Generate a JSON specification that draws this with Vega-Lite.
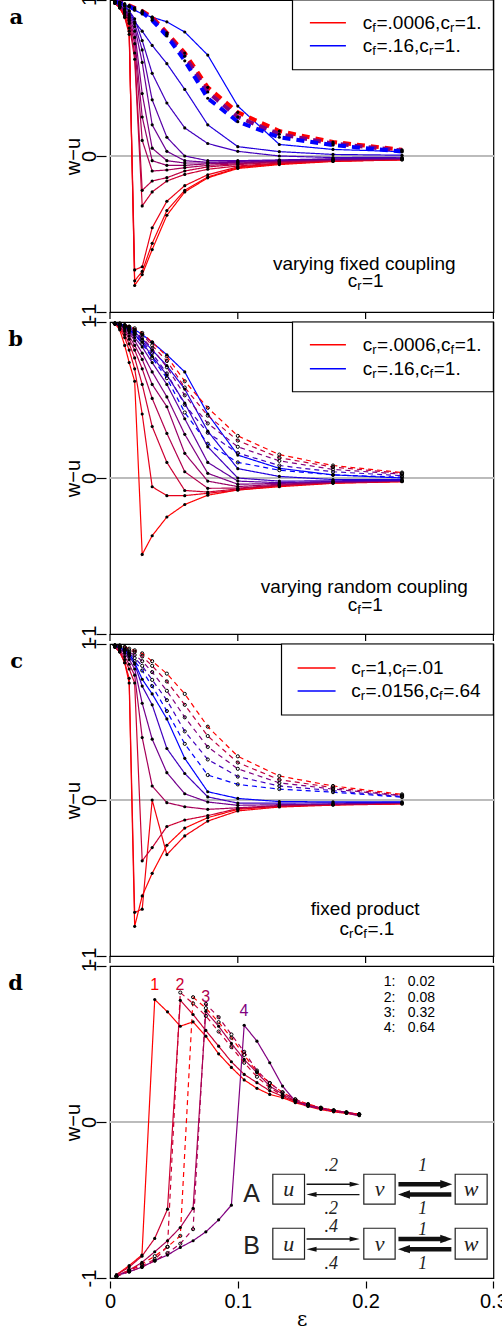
{
"$schema":"https://vega.github.io/schema/vega-lite/v6.json",
"padding":{"left":8,"top":-8,"right":0,"bottom":0},
"background":"white",
"config":{"view":{"stroke":"black","strokeWidth":1.2},"font":"Liberation Sans",
"axis":{"grid":false,"domain":false,"tickColor":"black","labelColor":"black","titleColor":"black","labelFont":"Liberation Sans","titleFont":"Liberation Sans","labelFontSize":20,"titleFontSize":20,"titleFontWeight":"normal","tickWidth":1.2}},
"data":{"values":[
{"p":"a","s":"a1","t":0,"x":0.0038,"y":0.98},{"p":"a","s":"a1","t":0,"x":0.0076,"y":0.95},{"p":"a","s":"a1","t":0,"x":0.0115,"y":0.9},{"p":"a","s":"a1","t":0,"x":0.015,"y":0.82},{"p":"a","s":"a1","t":0,"x":0.0193,"y":-0.83},{"p":"a","s":"a1","t":0,"x":0.0252,"y":-0.76},{"p":"a","s":"a1","t":0,"x":0.033,"y":-0.6},{"p":"a","s":"a1","t":0,"x":0.0445,"y":-0.38},{"p":"a","s":"a1","t":0,"x":0.0585,"y":-0.23},{"p":"a","s":"a1","t":0,"x":0.0765,"y":-0.14},{"p":"a","s":"a1","t":0,"x":0.1,"y":-0.08},{"p":"a","s":"a1","t":0,"x":0.1325,"y":-0.055},{"p":"a","s":"a1","t":0,"x":0.1745,"y":-0.035},{"p":"a","s":"a1","t":0,"x":0.2285,"y":-0.025},
{"p":"a","s":"a2","t":0.04,"x":0.0038,"y":0.98},{"p":"a","s":"a2","t":0.04,"x":0.0076,"y":0.95},{"p":"a","s":"a2","t":0.04,"x":0.0115,"y":0.89},{"p":"a","s":"a2","t":0.04,"x":0.015,"y":0.8},{"p":"a","s":"a2","t":0.04,"x":0.0193,"y":-0.8},{"p":"a","s":"a2","t":0.04,"x":0.0252,"y":-0.74},{"p":"a","s":"a2","t":0.04,"x":0.033,"y":-0.56},{"p":"a","s":"a2","t":0.04,"x":0.0445,"y":-0.35},{"p":"a","s":"a2","t":0.04,"x":0.0585,"y":-0.22},{"p":"a","s":"a2","t":0.04,"x":0.0765,"y":-0.135},{"p":"a","s":"a2","t":0.04,"x":0.1,"y":-0.075},{"p":"a","s":"a2","t":0.04,"x":0.1325,"y":-0.05},{"p":"a","s":"a2","t":0.04,"x":0.1745,"y":-0.033},{"p":"a","s":"a2","t":0.04,"x":0.2285,"y":-0.024},
{"p":"a","s":"a3","t":0.08,"x":0.0038,"y":0.98},{"p":"a","s":"a3","t":0.08,"x":0.0076,"y":0.95},{"p":"a","s":"a3","t":0.08,"x":0.0115,"y":0.89},{"p":"a","s":"a3","t":0.08,"x":0.015,"y":0.78},{"p":"a","s":"a3","t":0.08,"x":0.0193,"y":-0.73},{"p":"a","s":"a3","t":0.08,"x":0.0252,"y":-0.71},{"p":"a","s":"a3","t":0.08,"x":0.033,"y":-0.46},{"p":"a","s":"a3","t":0.08,"x":0.0445,"y":-0.29},{"p":"a","s":"a3","t":0.08,"x":0.0585,"y":-0.19},{"p":"a","s":"a3","t":0.08,"x":0.0765,"y":-0.12},{"p":"a","s":"a3","t":0.08,"x":0.1,"y":-0.07},{"p":"a","s":"a3","t":0.08,"x":0.1325,"y":-0.048},{"p":"a","s":"a3","t":0.08,"x":0.1745,"y":-0.032},{"p":"a","s":"a3","t":0.08,"x":0.2285,"y":-0.023},
{"p":"a","s":"a4","t":0.2,"x":0.0038,"y":0.98},{"p":"a","s":"a4","t":0.2,"x":0.0076,"y":0.96},{"p":"a","s":"a4","t":0.2,"x":0.0115,"y":0.91},{"p":"a","s":"a4","t":0.2,"x":0.015,"y":0.85},{"p":"a","s":"a4","t":0.2,"x":0.0193,"y":0.62},{"p":"a","s":"a4","t":0.2,"x":0.0252,"y":-0.32},{"p":"a","s":"a4","t":0.2,"x":0.033,"y":-0.23},{"p":"a","s":"a4","t":0.2,"x":0.0445,"y":-0.16},{"p":"a","s":"a4","t":0.2,"x":0.0585,"y":-0.118},{"p":"a","s":"a4","t":0.2,"x":0.0765,"y":-0.085},{"p":"a","s":"a4","t":0.2,"x":0.1,"y":-0.064},{"p":"a","s":"a4","t":0.2,"x":0.1325,"y":-0.045},{"p":"a","s":"a4","t":0.2,"x":0.1745,"y":-0.03},{"p":"a","s":"a4","t":0.2,"x":0.2285,"y":-0.022},
{"p":"a","s":"a5","t":0.26,"x":0.0038,"y":0.98},{"p":"a","s":"a5","t":0.26,"x":0.0076,"y":0.96},{"p":"a","s":"a5","t":0.26,"x":0.0115,"y":0.92},{"p":"a","s":"a5","t":0.26,"x":0.015,"y":0.86},{"p":"a","s":"a5","t":0.26,"x":0.0193,"y":0.66},{"p":"a","s":"a5","t":0.26,"x":0.0252,"y":-0.22},{"p":"a","s":"a5","t":0.26,"x":0.033,"y":-0.16},{"p":"a","s":"a5","t":0.26,"x":0.0445,"y":-0.139},{"p":"a","s":"a5","t":0.26,"x":0.0585,"y":-0.096},{"p":"a","s":"a5","t":0.26,"x":0.0765,"y":-0.07},{"p":"a","s":"a5","t":0.26,"x":0.1,"y":-0.055},{"p":"a","s":"a5","t":0.26,"x":0.1325,"y":-0.04},{"p":"a","s":"a5","t":0.26,"x":0.1745,"y":-0.028},{"p":"a","s":"a5","t":0.26,"x":0.2285,"y":-0.02},
{"p":"a","s":"a6","t":0.34,"x":0.0038,"y":0.98},{"p":"a","s":"a6","t":0.34,"x":0.0076,"y":0.96},{"p":"a","s":"a6","t":0.34,"x":0.0115,"y":0.92},{"p":"a","s":"a6","t":0.34,"x":0.015,"y":0.87},{"p":"a","s":"a6","t":0.34,"x":0.0193,"y":0.72},{"p":"a","s":"a6","t":0.34,"x":0.0252,"y":0.1},{"p":"a","s":"a6","t":0.34,"x":0.033,"y":-0.096},{"p":"a","s":"a6","t":0.34,"x":0.0445,"y":-0.09},{"p":"a","s":"a6","t":0.34,"x":0.0585,"y":-0.075},{"p":"a","s":"a6","t":0.34,"x":0.0765,"y":-0.06},{"p":"a","s":"a6","t":0.34,"x":0.1,"y":-0.05},{"p":"a","s":"a6","t":0.34,"x":0.1325,"y":-0.036},{"p":"a","s":"a6","t":0.34,"x":0.1745,"y":-0.026},{"p":"a","s":"a6","t":0.34,"x":0.2285,"y":-0.019},
{"p":"a","s":"a7","t":0.42,"x":0.0038,"y":0.99},{"p":"a","s":"a7","t":0.42,"x":0.0076,"y":0.96},{"p":"a","s":"a7","t":0.42,"x":0.0115,"y":0.93},{"p":"a","s":"a7","t":0.42,"x":0.015,"y":0.88},{"p":"a","s":"a7","t":0.42,"x":0.0193,"y":0.76},{"p":"a","s":"a7","t":0.42,"x":0.0252,"y":0.25},{"p":"a","s":"a7","t":0.42,"x":0.033,"y":-0.03},{"p":"a","s":"a7","t":0.42,"x":0.0445,"y":-0.06},{"p":"a","s":"a7","t":0.42,"x":0.0585,"y":-0.06},{"p":"a","s":"a7","t":0.42,"x":0.0765,"y":-0.05},{"p":"a","s":"a7","t":0.42,"x":0.1,"y":-0.045},{"p":"a","s":"a7","t":0.42,"x":0.1325,"y":-0.033},{"p":"a","s":"a7","t":0.42,"x":0.1745,"y":-0.024},{"p":"a","s":"a7","t":0.42,"x":0.2285,"y":-0.018},
{"p":"a","s":"a8","t":0.5,"x":0.0038,"y":0.99},{"p":"a","s":"a8","t":0.5,"x":0.0076,"y":0.97},{"p":"a","s":"a8","t":0.5,"x":0.0115,"y":0.93},{"p":"a","s":"a8","t":0.5,"x":0.015,"y":0.89},{"p":"a","s":"a8","t":0.5,"x":0.0193,"y":0.8},{"p":"a","s":"a8","t":0.5,"x":0.0252,"y":0.4},{"p":"a","s":"a8","t":0.5,"x":0.033,"y":0.05},{"p":"a","s":"a8","t":0.5,"x":0.0445,"y":-0.03},{"p":"a","s":"a8","t":0.5,"x":0.0585,"y":-0.045},{"p":"a","s":"a8","t":0.5,"x":0.0765,"y":-0.045},{"p":"a","s":"a8","t":0.5,"x":0.1,"y":-0.04},{"p":"a","s":"a8","t":0.5,"x":0.1325,"y":-0.03},{"p":"a","s":"a8","t":0.5,"x":0.1745,"y":-0.022},{"p":"a","s":"a8","t":0.5,"x":0.2285,"y":-0.017},
{"p":"a","s":"a9","t":0.58,"x":0.0038,"y":0.99},{"p":"a","s":"a9","t":0.58,"x":0.0076,"y":0.97},{"p":"a","s":"a9","t":0.58,"x":0.0115,"y":0.94},{"p":"a","s":"a9","t":0.58,"x":0.015,"y":0.9},{"p":"a","s":"a9","t":0.58,"x":0.0193,"y":0.83},{"p":"a","s":"a9","t":0.58,"x":0.0252,"y":0.6},{"p":"a","s":"a9","t":0.58,"x":0.033,"y":0.2},{"p":"a","s":"a9","t":0.58,"x":0.0445,"y":0.03},{"p":"a","s":"a9","t":0.58,"x":0.0585,"y":-0.03},{"p":"a","s":"a9","t":0.58,"x":0.0765,"y":-0.04},{"p":"a","s":"a9","t":0.58,"x":0.1,"y":-0.035},{"p":"a","s":"a9","t":0.58,"x":0.1325,"y":-0.028},{"p":"a","s":"a9","t":0.58,"x":0.1745,"y":-0.02},{"p":"a","s":"a9","t":0.58,"x":0.2285,"y":-0.015},
{"p":"a","s":"a10","t":0.66,"x":0.0038,"y":0.99},{"p":"a","s":"a10","t":0.66,"x":0.0076,"y":0.97},{"p":"a","s":"a10","t":0.66,"x":0.0115,"y":0.94},{"p":"a","s":"a10","t":0.66,"x":0.015,"y":0.91},{"p":"a","s":"a10","t":0.66,"x":0.0193,"y":0.85},{"p":"a","s":"a10","t":0.66,"x":0.0252,"y":0.68},{"p":"a","s":"a10","t":0.66,"x":0.033,"y":0.36},{"p":"a","s":"a10","t":0.66,"x":0.0445,"y":0.12},{"p":"a","s":"a10","t":0.66,"x":0.0585,"y":0.0},{"p":"a","s":"a10","t":0.66,"x":0.0765,"y":-0.03},{"p":"a","s":"a10","t":0.66,"x":0.1,"y":-0.03},{"p":"a","s":"a10","t":0.66,"x":0.1325,"y":-0.025},{"p":"a","s":"a10","t":0.66,"x":0.1745,"y":-0.018},{"p":"a","s":"a10","t":0.66,"x":0.2285,"y":-0.013},
{"p":"a","s":"a11","t":0.74,"x":0.0038,"y":0.99},{"p":"a","s":"a11","t":0.74,"x":0.0076,"y":0.98},{"p":"a","s":"a11","t":0.74,"x":0.0115,"y":0.96},{"p":"a","s":"a11","t":0.74,"x":0.015,"y":0.93},{"p":"a","s":"a11","t":0.74,"x":0.0193,"y":0.88},{"p":"a","s":"a11","t":0.74,"x":0.0252,"y":0.74},{"p":"a","s":"a11","t":0.74,"x":0.033,"y":0.53},{"p":"a","s":"a11","t":0.74,"x":0.0445,"y":0.34},{"p":"a","s":"a11","t":0.74,"x":0.0585,"y":0.18},{"p":"a","s":"a11","t":0.74,"x":0.0765,"y":0.08},{"p":"a","s":"a11","t":0.74,"x":0.1,"y":0.03},{"p":"a","s":"a11","t":0.74,"x":0.1325,"y":0.0},{"p":"a","s":"a11","t":0.74,"x":0.1745,"y":-0.01},{"p":"a","s":"a11","t":0.74,"x":0.2285,"y":-0.008},
{"p":"a","s":"a12","t":0.86,"x":0.0038,"y":0.99},{"p":"a","s":"a12","t":0.86,"x":0.0076,"y":0.98},{"p":"a","s":"a12","t":0.86,"x":0.0115,"y":0.96},{"p":"a","s":"a12","t":0.86,"x":0.015,"y":0.93},{"p":"a","s":"a12","t":0.86,"x":0.0193,"y":0.86},{"p":"a","s":"a12","t":0.86,"x":0.0252,"y":0.8},{"p":"a","s":"a12","t":0.86,"x":0.033,"y":0.709},{"p":"a","s":"a12","t":0.86,"x":0.0445,"y":0.592},{"p":"a","s":"a12","t":0.86,"x":0.0585,"y":0.427},{"p":"a","s":"a12","t":0.86,"x":0.0765,"y":0.2},{"p":"a","s":"a12","t":0.86,"x":0.1,"y":0.06},{"p":"a","s":"a12","t":0.86,"x":0.1325,"y":0.028},{"p":"a","s":"a12","t":0.86,"x":0.1745,"y":0.01},{"p":"a","s":"a12","t":0.86,"x":0.2285,"y":0.005},
{"p":"a","s":"a13","t":1,"x":0.0038,"y":0.99},{"p":"a","s":"a13","t":1,"x":0.0076,"y":0.985},{"p":"a","s":"a13","t":1,"x":0.0115,"y":0.97},{"p":"a","s":"a13","t":1,"x":0.015,"y":0.955},{"p":"a","s":"a13","t":1,"x":0.0193,"y":0.935},{"p":"a","s":"a13","t":1,"x":0.0252,"y":0.91},{"p":"a","s":"a13","t":1,"x":0.033,"y":0.89},{"p":"a","s":"a13","t":1,"x":0.0445,"y":0.86},{"p":"a","s":"a13","t":1,"x":0.0585,"y":0.795},{"p":"a","s":"a13","t":1,"x":0.0765,"y":0.647},{"p":"a","s":"a13","t":1,"x":0.1,"y":0.32},{"p":"a","s":"a13","t":1,"x":0.1325,"y":0.074},{"p":"a","s":"a13","t":1,"x":0.1745,"y":0.042},{"p":"a","s":"a13","t":1,"x":0.2285,"y":0.028},
{"p":"a","s":"ad1","t":0,"d":1,"x":0.0038,"y":0.99},{"p":"a","s":"ad1","t":0,"d":1,"x":0.0076,"y":0.985},{"p":"a","s":"ad1","t":0,"d":1,"x":0.0115,"y":0.975},{"p":"a","s":"ad1","t":0,"d":1,"x":0.015,"y":0.965},{"p":"a","s":"ad1","t":0,"d":1,"x":0.0193,"y":0.95},{"p":"a","s":"ad1","t":0,"d":1,"x":0.0252,"y":0.93},{"p":"a","s":"ad1","t":0,"d":1,"x":0.033,"y":0.89},{"p":"a","s":"ad1","t":0,"d":1,"x":0.0445,"y":0.79},{"p":"a","s":"ad1","t":0,"d":1,"x":0.0585,"y":0.66},{"p":"a","s":"ad1","t":0,"d":1,"x":0.0765,"y":0.44},{"p":"a","s":"ad1","t":0,"d":1,"x":0.1,"y":0.28},{"p":"a","s":"ad1","t":0,"d":1,"x":0.1325,"y":0.16},{"p":"a","s":"ad1","t":0,"d":1,"x":0.1745,"y":0.09},{"p":"a","s":"ad1","t":0,"d":1,"x":0.2285,"y":0.04},
{"p":"a","s":"ad2","t":0.5,"d":1,"x":0.0038,"y":0.99},{"p":"a","s":"ad2","t":0.5,"d":1,"x":0.0076,"y":0.985},{"p":"a","s":"ad2","t":0.5,"d":1,"x":0.0115,"y":0.975},{"p":"a","s":"ad2","t":0.5,"d":1,"x":0.015,"y":0.96},{"p":"a","s":"ad2","t":0.5,"d":1,"x":0.0193,"y":0.945},{"p":"a","s":"ad2","t":0.5,"d":1,"x":0.0252,"y":0.925},{"p":"a","s":"ad2","t":0.5,"d":1,"x":0.033,"y":0.88},{"p":"a","s":"ad2","t":0.5,"d":1,"x":0.0445,"y":0.78},{"p":"a","s":"ad2","t":0.5,"d":1,"x":0.0585,"y":0.64},{"p":"a","s":"ad2","t":0.5,"d":1,"x":0.0765,"y":0.41},{"p":"a","s":"ad2","t":0.5,"d":1,"x":0.1,"y":0.25},{"p":"a","s":"ad2","t":0.5,"d":1,"x":0.1325,"y":0.14},{"p":"a","s":"ad2","t":0.5,"d":1,"x":0.1745,"y":0.08},{"p":"a","s":"ad2","t":0.5,"d":1,"x":0.2285,"y":0.035},
{"p":"a","s":"ad3","t":1,"d":1,"x":0.0038,"y":0.99},{"p":"a","s":"ad3","t":1,"d":1,"x":0.0076,"y":0.98},{"p":"a","s":"ad3","t":1,"d":1,"x":0.0115,"y":0.97},{"p":"a","s":"ad3","t":1,"d":1,"x":0.015,"y":0.96},{"p":"a","s":"ad3","t":1,"d":1,"x":0.0193,"y":0.94},{"p":"a","s":"ad3","t":1,"d":1,"x":0.0252,"y":0.92},{"p":"a","s":"ad3","t":1,"d":1,"x":0.033,"y":0.87},{"p":"a","s":"ad3","t":1,"d":1,"x":0.0445,"y":0.77},{"p":"a","s":"ad3","t":1,"d":1,"x":0.0585,"y":0.61},{"p":"a","s":"ad3","t":1,"d":1,"x":0.0765,"y":0.37},{"p":"a","s":"ad3","t":1,"d":1,"x":0.1,"y":0.22},{"p":"a","s":"ad3","t":1,"d":1,"x":0.1325,"y":0.12},{"p":"a","s":"ad3","t":1,"d":1,"x":0.1745,"y":0.07},{"p":"a","s":"ad3","t":1,"d":1,"x":0.2285,"y":0.028},
{"p":"b","s":"b1","t":0,"x":0.0038,"y":0.99},{"p":"b","s":"b1","t":0,"x":0.0076,"y":0.95},{"p":"b","s":"b1","t":0,"x":0.0115,"y":0.85},{"p":"b","s":"b1","t":0,"x":0.015,"y":0.74},{"p":"b","s":"b1","t":0,"x":0.0193,"y":0.62},{"p":"b","s":"b1","t":0,"x":0.0252,"y":-0.49},{"p":"b","s":"b1","t":0,"x":0.033,"y":-0.37},{"p":"b","s":"b1","t":0,"x":0.0445,"y":-0.25},{"p":"b","s":"b1","t":0,"x":0.0585,"y":-0.17},{"p":"b","s":"b1","t":0,"x":0.0765,"y":-0.11},{"p":"b","s":"b1","t":0,"x":0.1,"y":-0.077},{"p":"b","s":"b1","t":0,"x":0.1325,"y":-0.056},{"p":"b","s":"b1","t":0,"x":0.1745,"y":-0.034},{"p":"b","s":"b1","t":0,"x":0.2285,"y":-0.024},
{"p":"b","s":"b2","t":0.1,"x":0.0038,"y":0.99},{"p":"b","s":"b2","t":0.1,"x":0.0076,"y":0.96},{"p":"b","s":"b2","t":0.1,"x":0.0115,"y":0.9},{"p":"b","s":"b2","t":0.1,"x":0.015,"y":0.82},{"p":"b","s":"b2","t":0.1,"x":0.0193,"y":0.7},{"p":"b","s":"b2","t":0.1,"x":0.0252,"y":0.41},{"p":"b","s":"b2","t":0.1,"x":0.033,"y":-0.056},{"p":"b","s":"b2","t":0.1,"x":0.0445,"y":-0.113},{"p":"b","s":"b2","t":0.1,"x":0.0585,"y":-0.113},{"p":"b","s":"b2","t":0.1,"x":0.0765,"y":-0.098},{"p":"b","s":"b2","t":0.1,"x":0.1,"y":-0.077},{"p":"b","s":"b2","t":0.1,"x":0.1325,"y":-0.05},{"p":"b","s":"b2","t":0.1,"x":0.1745,"y":-0.032},{"p":"b","s":"b2","t":0.1,"x":0.2285,"y":-0.022},
{"p":"b","s":"b3","t":0.2,"x":0.0038,"y":0.99},{"p":"b","s":"b3","t":0.2,"x":0.0076,"y":0.97},{"p":"b","s":"b3","t":0.2,"x":0.0115,"y":0.92},{"p":"b","s":"b3","t":0.2,"x":0.015,"y":0.86},{"p":"b","s":"b3","t":0.2,"x":0.0193,"y":0.77},{"p":"b","s":"b3","t":0.2,"x":0.0252,"y":0.6},{"p":"b","s":"b3","t":0.2,"x":0.033,"y":0.33},{"p":"b","s":"b3","t":0.2,"x":0.0445,"y":0.1},{"p":"b","s":"b3","t":0.2,"x":0.0585,"y":-0.08},{"p":"b","s":"b3","t":0.2,"x":0.0765,"y":-0.09},{"p":"b","s":"b3","t":0.2,"x":0.1,"y":-0.07},{"p":"b","s":"b3","t":0.2,"x":0.1325,"y":-0.048},{"p":"b","s":"b3","t":0.2,"x":0.1745,"y":-0.03},{"p":"b","s":"b3","t":0.2,"x":0.2285,"y":-0.021},
{"p":"b","s":"b4","t":0.3,"x":0.0038,"y":0.99},{"p":"b","s":"b4","t":0.3,"x":0.0076,"y":0.97},{"p":"b","s":"b4","t":0.3,"x":0.0115,"y":0.94},{"p":"b","s":"b4","t":0.3,"x":0.015,"y":0.89},{"p":"b","s":"b4","t":0.3,"x":0.0193,"y":0.82},{"p":"b","s":"b4","t":0.3,"x":0.0252,"y":0.7},{"p":"b","s":"b4","t":0.3,"x":0.033,"y":0.51},{"p":"b","s":"b4","t":0.3,"x":0.0445,"y":0.286},{"p":"b","s":"b4","t":0.3,"x":0.0585,"y":0.04},{"p":"b","s":"b4","t":0.3,"x":0.0765,"y":-0.066},{"p":"b","s":"b4","t":0.3,"x":0.1,"y":-0.065},{"p":"b","s":"b4","t":0.3,"x":0.1325,"y":-0.045},{"p":"b","s":"b4","t":0.3,"x":0.1745,"y":-0.029},{"p":"b","s":"b4","t":0.3,"x":0.2285,"y":-0.02},
{"p":"b","s":"b5","t":0.4,"x":0.0038,"y":0.99},{"p":"b","s":"b5","t":0.4,"x":0.0076,"y":0.98},{"p":"b","s":"b5","t":0.4,"x":0.0115,"y":0.95},{"p":"b","s":"b5","t":0.4,"x":0.015,"y":0.91},{"p":"b","s":"b5","t":0.4,"x":0.0193,"y":0.85},{"p":"b","s":"b5","t":0.4,"x":0.0252,"y":0.76},{"p":"b","s":"b5","t":0.4,"x":0.033,"y":0.6},{"p":"b","s":"b5","t":0.4,"x":0.0445,"y":0.457},{"p":"b","s":"b5","t":0.4,"x":0.0585,"y":0.158},{"p":"b","s":"b5","t":0.4,"x":0.0765,"y":-0.02},{"p":"b","s":"b5","t":0.4,"x":0.1,"y":-0.055},{"p":"b","s":"b5","t":0.4,"x":0.1325,"y":-0.04},{"p":"b","s":"b5","t":0.4,"x":0.1745,"y":-0.027},{"p":"b","s":"b5","t":0.4,"x":0.2285,"y":-0.019},
{"p":"b","s":"b6","t":0.5,"x":0.0038,"y":0.99},{"p":"b","s":"b6","t":0.5,"x":0.0076,"y":0.98},{"p":"b","s":"b6","t":0.5,"x":0.0115,"y":0.96},{"p":"b","s":"b6","t":0.5,"x":0.015,"y":0.93},{"p":"b","s":"b6","t":0.5,"x":0.0193,"y":0.88},{"p":"b","s":"b6","t":0.5,"x":0.0252,"y":0.8},{"p":"b","s":"b6","t":0.5,"x":0.033,"y":0.68},{"p":"b","s":"b6","t":0.5,"x":0.0445,"y":0.52},{"p":"b","s":"b6","t":0.5,"x":0.0585,"y":0.28},{"p":"b","s":"b6","t":0.5,"x":0.0765,"y":0.03},{"p":"b","s":"b6","t":0.5,"x":0.1,"y":-0.04},{"p":"b","s":"b6","t":0.5,"x":0.1325,"y":-0.035},{"p":"b","s":"b6","t":0.5,"x":0.1745,"y":-0.025},{"p":"b","s":"b6","t":0.5,"x":0.2285,"y":-0.018},
{"p":"b","s":"b7","t":0.62,"x":0.0038,"y":0.99},{"p":"b","s":"b7","t":0.62,"x":0.0076,"y":0.98},{"p":"b","s":"b7","t":0.62,"x":0.0115,"y":0.97},{"p":"b","s":"b7","t":0.62,"x":0.015,"y":0.94},{"p":"b","s":"b7","t":0.62,"x":0.0193,"y":0.9},{"p":"b","s":"b7","t":0.62,"x":0.0252,"y":0.84},{"p":"b","s":"b7","t":0.62,"x":0.033,"y":0.74},{"p":"b","s":"b7","t":0.62,"x":0.0445,"y":0.6},{"p":"b","s":"b7","t":0.62,"x":0.0585,"y":0.38},{"p":"b","s":"b7","t":0.62,"x":0.0765,"y":0.1},{"p":"b","s":"b7","t":0.62,"x":0.1,"y":-0.02},{"p":"b","s":"b7","t":0.62,"x":0.1325,"y":-0.03},{"p":"b","s":"b7","t":0.62,"x":0.1745,"y":-0.022},{"p":"b","s":"b7","t":0.62,"x":0.2285,"y":-0.016},
{"p":"b","s":"b8","t":0.75,"x":0.0038,"y":0.99},{"p":"b","s":"b8","t":0.75,"x":0.0076,"y":0.985},{"p":"b","s":"b8","t":0.75,"x":0.0115,"y":0.97},{"p":"b","s":"b8","t":0.75,"x":0.015,"y":0.95},{"p":"b","s":"b8","t":0.75,"x":0.0193,"y":0.92},{"p":"b","s":"b8","t":0.75,"x":0.0252,"y":0.87},{"p":"b","s":"b8","t":0.75,"x":0.033,"y":0.78},{"p":"b","s":"b8","t":0.75,"x":0.0445,"y":0.66},{"p":"b","s":"b8","t":0.75,"x":0.0585,"y":0.48},{"p":"b","s":"b8","t":0.75,"x":0.0765,"y":0.2},{"p":"b","s":"b8","t":0.75,"x":0.1,"y":0.0},{"p":"b","s":"b8","t":0.75,"x":0.1325,"y":-0.02},{"p":"b","s":"b8","t":0.75,"x":0.1745,"y":-0.018},{"p":"b","s":"b8","t":0.75,"x":0.2285,"y":-0.014},
{"p":"b","s":"b9","t":0.87,"x":0.0038,"y":0.99},{"p":"b","s":"b9","t":0.87,"x":0.0076,"y":0.985},{"p":"b","s":"b9","t":0.87,"x":0.0115,"y":0.975},{"p":"b","s":"b9","t":0.87,"x":0.015,"y":0.96},{"p":"b","s":"b9","t":0.87,"x":0.0193,"y":0.935},{"p":"b","s":"b9","t":0.87,"x":0.0252,"y":0.89},{"p":"b","s":"b9","t":0.87,"x":0.033,"y":0.82},{"p":"b","s":"b9","t":0.87,"x":0.0445,"y":0.72},{"p":"b","s":"b9","t":0.87,"x":0.0585,"y":0.57},{"p":"b","s":"b9","t":0.87,"x":0.0765,"y":0.3},{"p":"b","s":"b9","t":0.87,"x":0.1,"y":0.06},{"p":"b","s":"b9","t":0.87,"x":0.1325,"y":0.01},{"p":"b","s":"b9","t":0.87,"x":0.1745,"y":-0.01},{"p":"b","s":"b9","t":0.87,"x":0.2285,"y":-0.01},
{"p":"b","s":"b10","t":1,"x":0.0038,"y":0.99},{"p":"b","s":"b10","t":1,"x":0.0076,"y":0.99},{"p":"b","s":"b10","t":1,"x":0.0115,"y":0.98},{"p":"b","s":"b10","t":1,"x":0.015,"y":0.97},{"p":"b","s":"b10","t":1,"x":0.0193,"y":0.95},{"p":"b","s":"b10","t":1,"x":0.0252,"y":0.92},{"p":"b","s":"b10","t":1,"x":0.033,"y":0.87},{"p":"b","s":"b10","t":1,"x":0.0445,"y":0.79},{"p":"b","s":"b10","t":1,"x":0.0585,"y":0.68},{"p":"b","s":"b10","t":1,"x":0.0765,"y":0.41},{"p":"b","s":"b10","t":1,"x":0.1,"y":0.147},{"p":"b","s":"b10","t":1,"x":0.1325,"y":0.062},{"p":"b","s":"b10","t":1,"x":0.1745,"y":0.02},{"p":"b","s":"b10","t":1,"x":0.2285,"y":0.0},
{"p":"b","s":"bd1","t":0,"d":1,"x":0.0038,"y":0.99},{"p":"b","s":"bd1","t":0,"d":1,"x":0.0076,"y":0.99},{"p":"b","s":"bd1","t":0,"d":1,"x":0.0115,"y":0.98},{"p":"b","s":"bd1","t":0,"d":1,"x":0.015,"y":0.97},{"p":"b","s":"bd1","t":0,"d":1,"x":0.0193,"y":0.96},{"p":"b","s":"bd1","t":0,"d":1,"x":0.0252,"y":0.93},{"p":"b","s":"bd1","t":0,"d":1,"x":0.033,"y":0.87},{"p":"b","s":"bd1","t":0,"d":1,"x":0.0445,"y":0.78},{"p":"b","s":"bd1","t":0,"d":1,"x":0.0585,"y":0.62},{"p":"b","s":"bd1","t":0,"d":1,"x":0.0765,"y":0.45},{"p":"b","s":"bd1","t":0,"d":1,"x":0.1,"y":0.27},{"p":"b","s":"bd1","t":0,"d":1,"x":0.1325,"y":0.15},{"p":"b","s":"bd1","t":0,"d":1,"x":0.1745,"y":0.08},{"p":"b","s":"bd1","t":0,"d":1,"x":0.2285,"y":0.035},
{"p":"b","s":"bd2","t":0.25,"d":1,"x":0.0038,"y":0.99},{"p":"b","s":"bd2","t":0.25,"d":1,"x":0.0076,"y":0.99},{"p":"b","s":"bd2","t":0.25,"d":1,"x":0.0115,"y":0.98},{"p":"b","s":"bd2","t":0.25,"d":1,"x":0.015,"y":0.97},{"p":"b","s":"bd2","t":0.25,"d":1,"x":0.0193,"y":0.95},{"p":"b","s":"bd2","t":0.25,"d":1,"x":0.0252,"y":0.92},{"p":"b","s":"bd2","t":0.25,"d":1,"x":0.033,"y":0.85},{"p":"b","s":"bd2","t":0.25,"d":1,"x":0.0445,"y":0.75},{"p":"b","s":"bd2","t":0.25,"d":1,"x":0.0585,"y":0.58},{"p":"b","s":"bd2","t":0.25,"d":1,"x":0.0765,"y":0.4},{"p":"b","s":"bd2","t":0.25,"d":1,"x":0.1,"y":0.24},{"p":"b","s":"bd2","t":0.25,"d":1,"x":0.1325,"y":0.13},{"p":"b","s":"bd2","t":0.25,"d":1,"x":0.1745,"y":0.07},{"p":"b","s":"bd2","t":0.25,"d":1,"x":0.2285,"y":0.03},
{"p":"b","s":"bd3","t":0.5,"d":1,"x":0.0038,"y":0.99},{"p":"b","s":"bd3","t":0.5,"d":1,"x":0.0076,"y":0.98},{"p":"b","s":"bd3","t":0.5,"d":1,"x":0.0115,"y":0.97},{"p":"b","s":"bd3","t":0.5,"d":1,"x":0.015,"y":0.96},{"p":"b","s":"bd3","t":0.5,"d":1,"x":0.0193,"y":0.94},{"p":"b","s":"bd3","t":0.5,"d":1,"x":0.0252,"y":0.9},{"p":"b","s":"bd3","t":0.5,"d":1,"x":0.033,"y":0.83},{"p":"b","s":"bd3","t":0.5,"d":1,"x":0.0445,"y":0.71},{"p":"b","s":"bd3","t":0.5,"d":1,"x":0.0585,"y":0.53},{"p":"b","s":"bd3","t":0.5,"d":1,"x":0.0765,"y":0.35},{"p":"b","s":"bd3","t":0.5,"d":1,"x":0.1,"y":0.2},{"p":"b","s":"bd3","t":0.5,"d":1,"x":0.1325,"y":0.11},{"p":"b","s":"bd3","t":0.5,"d":1,"x":0.1745,"y":0.055},{"p":"b","s":"bd3","t":0.5,"d":1,"x":0.2285,"y":0.025},
{"p":"b","s":"bd4","t":0.75,"d":1,"x":0.0038,"y":0.99},{"p":"b","s":"bd4","t":0.75,"d":1,"x":0.0076,"y":0.98},{"p":"b","s":"bd4","t":0.75,"d":1,"x":0.0115,"y":0.97},{"p":"b","s":"bd4","t":0.75,"d":1,"x":0.015,"y":0.95},{"p":"b","s":"bd4","t":0.75,"d":1,"x":0.0193,"y":0.93},{"p":"b","s":"bd4","t":0.75,"d":1,"x":0.0252,"y":0.88},{"p":"b","s":"bd4","t":0.75,"d":1,"x":0.033,"y":0.8},{"p":"b","s":"bd4","t":0.75,"d":1,"x":0.0445,"y":0.67},{"p":"b","s":"bd4","t":0.75,"d":1,"x":0.0585,"y":0.47},{"p":"b","s":"bd4","t":0.75,"d":1,"x":0.0765,"y":0.29},{"p":"b","s":"bd4","t":0.75,"d":1,"x":0.1,"y":0.16},{"p":"b","s":"bd4","t":0.75,"d":1,"x":0.1325,"y":0.08},{"p":"b","s":"bd4","t":0.75,"d":1,"x":0.1745,"y":0.04},{"p":"b","s":"bd4","t":0.75,"d":1,"x":0.2285,"y":0.015},
{"p":"b","s":"bd5","t":1,"d":1,"x":0.0038,"y":0.99},{"p":"b","s":"bd5","t":1,"d":1,"x":0.0076,"y":0.98},{"p":"b","s":"bd5","t":1,"d":1,"x":0.0115,"y":0.97},{"p":"b","s":"bd5","t":1,"d":1,"x":0.015,"y":0.95},{"p":"b","s":"bd5","t":1,"d":1,"x":0.0193,"y":0.92},{"p":"b","s":"bd5","t":1,"d":1,"x":0.0252,"y":0.86},{"p":"b","s":"bd5","t":1,"d":1,"x":0.033,"y":0.77},{"p":"b","s":"bd5","t":1,"d":1,"x":0.0445,"y":0.64},{"p":"b","s":"bd5","t":1,"d":1,"x":0.0585,"y":0.42},{"p":"b","s":"bd5","t":1,"d":1,"x":0.0765,"y":0.22},{"p":"b","s":"bd5","t":1,"d":1,"x":0.1,"y":0.1},{"p":"b","s":"bd5","t":1,"d":1,"x":0.1325,"y":0.05},{"p":"b","s":"bd5","t":1,"d":1,"x":0.1745,"y":0.02},{"p":"b","s":"bd5","t":1,"d":1,"x":0.2285,"y":0.005},
{"p":"c","s":"c1","t":0,"x":0.0038,"y":0.98},{"p":"c","s":"c1","t":0,"x":0.0076,"y":0.95},{"p":"c","s":"c1","t":0,"x":0.0115,"y":0.88},{"p":"c","s":"c1","t":0,"x":0.015,"y":0.75},{"p":"c","s":"c1","t":0,"x":0.0193,"y":-0.81},{"p":"c","s":"c1","t":0,"x":0.0252,"y":-0.615},{"p":"c","s":"c1","t":0,"x":0.033,"y":-0.47},{"p":"c","s":"c1","t":0,"x":0.0445,"y":-0.29},{"p":"c","s":"c1","t":0,"x":0.0585,"y":-0.18},{"p":"c","s":"c1","t":0,"x":0.0765,"y":-0.113},{"p":"c","s":"c1","t":0,"x":0.1,"y":-0.06},{"p":"c","s":"c1","t":0,"x":0.1325,"y":-0.04},{"p":"c","s":"c1","t":0,"x":0.1745,"y":-0.03},{"p":"c","s":"c1","t":0,"x":0.2285,"y":-0.025},
{"p":"c","s":"c2","t":0.05,"x":0.0038,"y":0.98},{"p":"c","s":"c2","t":0.05,"x":0.0076,"y":0.95},{"p":"c","s":"c2","t":0.05,"x":0.0115,"y":0.88},{"p":"c","s":"c2","t":0.05,"x":0.015,"y":0.78},{"p":"c","s":"c2","t":0.05,"x":0.0193,"y":-0.72},{"p":"c","s":"c2","t":0.05,"x":0.0252,"y":-0.7},{"p":"c","s":"c2","t":0.05,"x":0.033,"y":0.0},{"p":"c","s":"c2","t":0.05,"x":0.0445,"y":-0.35},{"p":"c","s":"c2","t":0.05,"x":0.0585,"y":-0.23},{"p":"c","s":"c2","t":0.05,"x":0.0765,"y":-0.135},{"p":"c","s":"c2","t":0.05,"x":0.1,"y":-0.07},{"p":"c","s":"c2","t":0.05,"x":0.1325,"y":-0.045},{"p":"c","s":"c2","t":0.05,"x":0.1745,"y":-0.033},{"p":"c","s":"c2","t":0.05,"x":0.2285,"y":-0.025},
{"p":"c","s":"c3","t":0.2,"x":0.0038,"y":0.98},{"p":"c","s":"c3","t":0.2,"x":0.0076,"y":0.95},{"p":"c","s":"c3","t":0.2,"x":0.0115,"y":0.9},{"p":"c","s":"c3","t":0.2,"x":0.015,"y":0.84},{"p":"c","s":"c3","t":0.2,"x":0.0193,"y":0.75},{"p":"c","s":"c3","t":0.2,"x":0.0252,"y":-0.39},{"p":"c","s":"c3","t":0.2,"x":0.033,"y":-0.305},{"p":"c","s":"c3","t":0.2,"x":0.0445,"y":-0.17},{"p":"c","s":"c3","t":0.2,"x":0.0585,"y":-0.128},{"p":"c","s":"c3","t":0.2,"x":0.0765,"y":-0.1},{"p":"c","s":"c3","t":0.2,"x":0.1,"y":-0.055},{"p":"c","s":"c3","t":0.2,"x":0.1325,"y":-0.04},{"p":"c","s":"c3","t":0.2,"x":0.1745,"y":-0.03},{"p":"c","s":"c3","t":0.2,"x":0.2285,"y":-0.022},
{"p":"c","s":"c4","t":0.35,"x":0.0038,"y":0.98},{"p":"c","s":"c4","t":0.35,"x":0.0076,"y":0.96},{"p":"c","s":"c4","t":0.35,"x":0.0115,"y":0.92},{"p":"c","s":"c4","t":0.35,"x":0.015,"y":0.87},{"p":"c","s":"c4","t":0.35,"x":0.0193,"y":0.8},{"p":"c","s":"c4","t":0.35,"x":0.0252,"y":0.4},{"p":"c","s":"c4","t":0.35,"x":0.033,"y":0.09},{"p":"c","s":"c4","t":0.35,"x":0.0445,"y":-0.017},{"p":"c","s":"c4","t":0.35,"x":0.0585,"y":-0.043},{"p":"c","s":"c4","t":0.35,"x":0.0765,"y":-0.06},{"p":"c","s":"c4","t":0.35,"x":0.1,"y":-0.05},{"p":"c","s":"c4","t":0.35,"x":0.1325,"y":-0.035},{"p":"c","s":"c4","t":0.35,"x":0.1745,"y":-0.027},{"p":"c","s":"c4","t":0.35,"x":0.2285,"y":-0.02},
{"p":"c","s":"c5","t":0.55,"x":0.0038,"y":0.99},{"p":"c","s":"c5","t":0.55,"x":0.0076,"y":0.97},{"p":"c","s":"c5","t":0.55,"x":0.0115,"y":0.94},{"p":"c","s":"c5","t":0.55,"x":0.015,"y":0.9},{"p":"c","s":"c5","t":0.55,"x":0.0193,"y":0.84},{"p":"c","s":"c5","t":0.55,"x":0.0252,"y":0.62},{"p":"c","s":"c5","t":0.55,"x":0.033,"y":0.39},{"p":"c","s":"c5","t":0.55,"x":0.0445,"y":0.175},{"p":"c","s":"c5","t":0.55,"x":0.0585,"y":0.04},{"p":"c","s":"c5","t":0.55,"x":0.0765,"y":-0.013},{"p":"c","s":"c5","t":0.55,"x":0.1,"y":-0.034},{"p":"c","s":"c5","t":0.55,"x":0.1325,"y":-0.03},{"p":"c","s":"c5","t":0.55,"x":0.1745,"y":-0.025},{"p":"c","s":"c5","t":0.55,"x":0.2285,"y":-0.018},
{"p":"c","s":"c6","t":0.75,"x":0.0038,"y":0.99},{"p":"c","s":"c6","t":0.75,"x":0.0076,"y":0.98},{"p":"c","s":"c6","t":0.75,"x":0.0115,"y":0.95},{"p":"c","s":"c6","t":0.75,"x":0.015,"y":0.92},{"p":"c","s":"c6","t":0.75,"x":0.0193,"y":0.87},{"p":"c","s":"c6","t":0.75,"x":0.0252,"y":0.73},{"p":"c","s":"c6","t":0.75,"x":0.033,"y":0.61},{"p":"c","s":"c6","t":0.75,"x":0.0445,"y":0.33},{"p":"c","s":"c6","t":0.75,"x":0.0585,"y":0.17},{"p":"c","s":"c6","t":0.75,"x":0.0765,"y":0.02},{"p":"c","s":"c6","t":0.75,"x":0.1,"y":-0.02},{"p":"c","s":"c6","t":0.75,"x":0.1325,"y":-0.02},{"p":"c","s":"c6","t":0.75,"x":0.1745,"y":-0.018},{"p":"c","s":"c6","t":0.75,"x":0.2285,"y":-0.015},
{"p":"c","s":"c7","t":1,"x":0.0038,"y":0.99},{"p":"c","s":"c7","t":1,"x":0.0076,"y":0.98},{"p":"c","s":"c7","t":1,"x":0.0115,"y":0.96},{"p":"c","s":"c7","t":1,"x":0.015,"y":0.94},{"p":"c","s":"c7","t":1,"x":0.0193,"y":0.88},{"p":"c","s":"c7","t":1,"x":0.0252,"y":0.774},{"p":"c","s":"c7","t":1,"x":0.033,"y":0.68},{"p":"c","s":"c7","t":1,"x":0.0445,"y":0.52},{"p":"c","s":"c7","t":1,"x":0.0585,"y":0.267},{"p":"c","s":"c7","t":1,"x":0.0765,"y":0.053},{"p":"c","s":"c7","t":1,"x":0.1,"y":0.01},{"p":"c","s":"c7","t":1,"x":0.1325,"y":-0.01},{"p":"c","s":"c7","t":1,"x":0.1745,"y":-0.012},{"p":"c","s":"c7","t":1,"x":0.2285,"y":-0.012},
{"p":"c","s":"cd1","t":0,"d":1,"x":0.0038,"y":0.99},{"p":"c","s":"cd1","t":0,"d":1,"x":0.0076,"y":0.99},{"p":"c","s":"cd1","t":0,"d":1,"x":0.0115,"y":0.98},{"p":"c","s":"cd1","t":0,"d":1,"x":0.015,"y":0.97},{"p":"c","s":"cd1","t":0,"d":1,"x":0.0193,"y":0.96},{"p":"c","s":"cd1","t":0,"d":1,"x":0.0252,"y":0.94},{"p":"c","s":"cd1","t":0,"d":1,"x":0.033,"y":0.89},{"p":"c","s":"cd1","t":0,"d":1,"x":0.0445,"y":0.81},{"p":"c","s":"cd1","t":0,"d":1,"x":0.0585,"y":0.68},{"p":"c","s":"cd1","t":0,"d":1,"x":0.0765,"y":0.47},{"p":"c","s":"cd1","t":0,"d":1,"x":0.1,"y":0.28},{"p":"c","s":"cd1","t":0,"d":1,"x":0.1325,"y":0.154},{"p":"c","s":"cd1","t":0,"d":1,"x":0.1745,"y":0.09},{"p":"c","s":"cd1","t":0,"d":1,"x":0.2285,"y":0.036},
{"p":"c","s":"cd2","t":0.25,"d":1,"x":0.0038,"y":0.99},{"p":"c","s":"cd2","t":0.25,"d":1,"x":0.0076,"y":0.99},{"p":"c","s":"cd2","t":0.25,"d":1,"x":0.0115,"y":0.98},{"p":"c","s":"cd2","t":0.25,"d":1,"x":0.015,"y":0.96},{"p":"c","s":"cd2","t":0.25,"d":1,"x":0.0193,"y":0.95},{"p":"c","s":"cd2","t":0.25,"d":1,"x":0.0252,"y":0.92},{"p":"c","s":"cd2","t":0.25,"d":1,"x":0.033,"y":0.86},{"p":"c","s":"cd2","t":0.25,"d":1,"x":0.0445,"y":0.76},{"p":"c","s":"cd2","t":0.25,"d":1,"x":0.0585,"y":0.61},{"p":"c","s":"cd2","t":0.25,"d":1,"x":0.0765,"y":0.41},{"p":"c","s":"cd2","t":0.25,"d":1,"x":0.1,"y":0.24},{"p":"c","s":"cd2","t":0.25,"d":1,"x":0.1325,"y":0.13},{"p":"c","s":"cd2","t":0.25,"d":1,"x":0.1745,"y":0.08},{"p":"c","s":"cd2","t":0.25,"d":1,"x":0.2285,"y":0.03},
{"p":"c","s":"cd3","t":0.5,"d":1,"x":0.0038,"y":0.99},{"p":"c","s":"cd3","t":0.5,"d":1,"x":0.0076,"y":0.98},{"p":"c","s":"cd3","t":0.5,"d":1,"x":0.0115,"y":0.97},{"p":"c","s":"cd3","t":0.5,"d":1,"x":0.015,"y":0.95},{"p":"c","s":"cd3","t":0.5,"d":1,"x":0.0193,"y":0.93},{"p":"c","s":"cd3","t":0.5,"d":1,"x":0.0252,"y":0.89},{"p":"c","s":"cd3","t":0.5,"d":1,"x":0.033,"y":0.82},{"p":"c","s":"cd3","t":0.5,"d":1,"x":0.0445,"y":0.7},{"p":"c","s":"cd3","t":0.5,"d":1,"x":0.0585,"y":0.53},{"p":"c","s":"cd3","t":0.5,"d":1,"x":0.0765,"y":0.34},{"p":"c","s":"cd3","t":0.5,"d":1,"x":0.1,"y":0.2},{"p":"c","s":"cd3","t":0.5,"d":1,"x":0.1325,"y":0.11},{"p":"c","s":"cd3","t":0.5,"d":1,"x":0.1745,"y":0.07},{"p":"c","s":"cd3","t":0.5,"d":1,"x":0.2285,"y":0.027},
{"p":"c","s":"cd4","t":0.75,"d":1,"x":0.0038,"y":0.99},{"p":"c","s":"cd4","t":0.75,"d":1,"x":0.0076,"y":0.98},{"p":"c","s":"cd4","t":0.75,"d":1,"x":0.0115,"y":0.96},{"p":"c","s":"cd4","t":0.75,"d":1,"x":0.015,"y":0.94},{"p":"c","s":"cd4","t":0.75,"d":1,"x":0.0193,"y":0.91},{"p":"c","s":"cd4","t":0.75,"d":1,"x":0.0252,"y":0.86},{"p":"c","s":"cd4","t":0.75,"d":1,"x":0.033,"y":0.77},{"p":"c","s":"cd4","t":0.75,"d":1,"x":0.0445,"y":0.64},{"p":"c","s":"cd4","t":0.75,"d":1,"x":0.0585,"y":0.44},{"p":"c","s":"cd4","t":0.75,"d":1,"x":0.0765,"y":0.26},{"p":"c","s":"cd4","t":0.75,"d":1,"x":0.1,"y":0.15},{"p":"c","s":"cd4","t":0.75,"d":1,"x":0.1325,"y":0.09},{"p":"c","s":"cd4","t":0.75,"d":1,"x":0.1745,"y":0.06},{"p":"c","s":"cd4","t":0.75,"d":1,"x":0.2285,"y":0.022},
{"p":"c","s":"cd5","t":1,"d":1,"x":0.0038,"y":0.99},{"p":"c","s":"cd5","t":1,"d":1,"x":0.0076,"y":0.98},{"p":"c","s":"cd5","t":1,"d":1,"x":0.0115,"y":0.96},{"p":"c","s":"cd5","t":1,"d":1,"x":0.015,"y":0.93},{"p":"c","s":"cd5","t":1,"d":1,"x":0.0193,"y":0.89},{"p":"c","s":"cd5","t":1,"d":1,"x":0.0252,"y":0.83},{"p":"c","s":"cd5","t":1,"d":1,"x":0.033,"y":0.73},{"p":"c","s":"cd5","t":1,"d":1,"x":0.0445,"y":0.57},{"p":"c","s":"cd5","t":1,"d":1,"x":0.0585,"y":0.36},{"p":"c","s":"cd5","t":1,"d":1,"x":0.0765,"y":0.16},{"p":"c","s":"cd5","t":1,"d":1,"x":0.1,"y":0.1},{"p":"c","s":"cd5","t":1,"d":1,"x":0.1325,"y":0.07},{"p":"c","s":"cd5","t":1,"d":1,"x":0.1745,"y":0.05},{"p":"c","s":"cd5","t":1,"d":1,"x":0.2285,"y":0.018},
{"p":"d","s":"d1","t":0,"x":0.005,"y":-0.98},{"p":"d","s":"d1","t":0,"x":0.015,"y":-0.92},{"p":"d","s":"d1","t":0,"x":0.025,"y":-0.853},{"p":"d","s":"d1","t":0,"x":0.035,"y":0.785},{"p":"d","s":"d1","t":0,"x":0.045,"y":0.706},{"p":"d","s":"d1","t":0,"x":0.055,"y":0.614},{"p":"d","s":"d1","t":0,"x":0.065,"y":0.642},{"p":"d","s":"d1","t":0,"x":0.075,"y":0.55},{"p":"d","s":"d1","t":0,"x":0.085,"y":0.437},{"p":"d","s":"d1","t":0,"x":0.095,"y":0.35},{"p":"d","s":"d1","t":0,"x":0.105,"y":0.27},{"p":"d","s":"d1","t":0,"x":0.115,"y":0.216},{"p":"d","s":"d1","t":0,"x":0.125,"y":0.177},{"p":"d","s":"d1","t":0,"x":0.135,"y":0.156},{"p":"d","s":"d1","t":0,"x":0.145,"y":0.124},{"p":"d","s":"d1","t":0,"x":0.155,"y":0.1},{"p":"d","s":"d1","t":0,"x":0.165,"y":0.08},{"p":"d","s":"d1","t":0,"x":0.175,"y":0.065},{"p":"d","s":"d1","t":0,"x":0.185,"y":0.055},{"p":"d","s":"d1","t":0,"x":0.195,"y":0.042},
{"p":"d","s":"d2","t":0.2,"x":0.005,"y":-0.98},{"p":"d","s":"d2","t":0.2,"x":0.015,"y":-0.93},{"p":"d","s":"d2","t":0.2,"x":0.025,"y":-0.86},{"p":"d","s":"d2","t":0.2,"x":0.035,"y":-0.746},{"p":"d","s":"d2","t":0.2,"x":0.045,"y":-0.559},{"p":"d","s":"d2","t":0.2,"x":0.055,"y":0.78},{"p":"d","s":"d2","t":0.2,"x":0.065,"y":0.689},{"p":"d","s":"d2","t":0.2,"x":0.075,"y":0.587},{"p":"d","s":"d2","t":0.2,"x":0.085,"y":0.486},{"p":"d","s":"d2","t":0.2,"x":0.095,"y":0.386},{"p":"d","s":"d2","t":0.2,"x":0.105,"y":0.305},{"p":"d","s":"d2","t":0.2,"x":0.115,"y":0.252},{"p":"d","s":"d2","t":0.2,"x":0.125,"y":0.2},{"p":"d","s":"d2","t":0.2,"x":0.135,"y":0.165},{"p":"d","s":"d2","t":0.2,"x":0.145,"y":0.13},{"p":"d","s":"d2","t":0.2,"x":0.155,"y":0.105},{"p":"d","s":"d2","t":0.2,"x":0.165,"y":0.085},{"p":"d","s":"d2","t":0.2,"x":0.175,"y":0.07},{"p":"d","s":"d2","t":0.2,"x":0.185,"y":0.058},{"p":"d","s":"d2","t":0.2,"x":0.195,"y":0.045},
{"p":"d","s":"d3","t":0.33,"x":0.005,"y":-0.985},{"p":"d","s":"d3","t":0.33,"x":0.015,"y":-0.95},{"p":"d","s":"d3","t":0.33,"x":0.025,"y":-0.9},{"p":"d","s":"d3","t":0.33,"x":0.035,"y":-0.832},{"p":"d","s":"d3","t":0.33,"x":0.045,"y":-0.761},{"p":"d","s":"d3","t":0.33,"x":0.055,"y":-0.676},{"p":"d","s":"d3","t":0.33,"x":0.065,"y":-0.554},{"p":"d","s":"d3","t":0.33,"x":0.075,"y":0.71},{"p":"d","s":"d3","t":0.33,"x":0.085,"y":0.614},{"p":"d","s":"d3","t":0.33,"x":0.095,"y":0.504},{"p":"d","s":"d3","t":0.33,"x":0.105,"y":0.401},{"p":"d","s":"d3","t":0.33,"x":0.115,"y":0.316},{"p":"d","s":"d3","t":0.33,"x":0.125,"y":0.23},{"p":"d","s":"d3","t":0.33,"x":0.135,"y":0.18},{"p":"d","s":"d3","t":0.33,"x":0.145,"y":0.134},{"p":"d","s":"d3","t":0.33,"x":0.155,"y":0.11},{"p":"d","s":"d3","t":0.33,"x":0.165,"y":0.09},{"p":"d","s":"d3","t":0.33,"x":0.175,"y":0.075},{"p":"d","s":"d3","t":0.33,"x":0.185,"y":0.062},{"p":"d","s":"d3","t":0.33,"x":0.195,"y":0.05},
{"p":"d","s":"d4","t":0.5,"x":0.005,"y":-0.985},{"p":"d","s":"d4","t":0.5,"x":0.015,"y":-0.96},{"p":"d","s":"d4","t":0.5,"x":0.025,"y":-0.93},{"p":"d","s":"d4","t":0.5,"x":0.035,"y":-0.889},{"p":"d","s":"d4","t":0.5,"x":0.045,"y":-0.853},{"p":"d","s":"d4","t":0.5,"x":0.055,"y":-0.804},{"p":"d","s":"d4","t":0.5,"x":0.065,"y":-0.761},{"p":"d","s":"d4","t":0.5,"x":0.075,"y":-0.704},{"p":"d","s":"d4","t":0.5,"x":0.085,"y":-0.627},{"p":"d","s":"d4","t":0.5,"x":0.095,"y":-0.533},{"p":"d","s":"d4","t":0.5,"x":0.105,"y":0.62},{"p":"d","s":"d4","t":0.5,"x":0.115,"y":0.518},{"p":"d","s":"d4","t":0.5,"x":0.125,"y":0.38},{"p":"d","s":"d4","t":0.5,"x":0.135,"y":0.23},{"p":"d","s":"d4","t":0.5,"x":0.145,"y":0.134},{"p":"d","s":"d4","t":0.5,"x":0.155,"y":0.102},{"p":"d","s":"d4","t":0.5,"x":0.165,"y":0.087},{"p":"d","s":"d4","t":0.5,"x":0.175,"y":0.07},{"p":"d","s":"d4","t":0.5,"x":0.185,"y":0.06},{"p":"d","s":"d4","t":0.5,"x":0.195,"y":0.04},
{"p":"d","s":"dd1","t":0,"d":1,"x":0.005,"y":-0.99},{"p":"d","s":"dd1","t":0,"d":1,"x":0.015,"y":-0.95},{"p":"d","s":"dd1","t":0,"d":1,"x":0.025,"y":-0.91},{"p":"d","s":"dd1","t":0,"d":1,"x":0.035,"y":-0.86},{"p":"d","s":"dd1","t":0,"d":1,"x":0.045,"y":-0.8},{"p":"d","s":"dd1","t":0,"d":1,"x":0.055,"y":-0.73},{"p":"d","s":"dd1","t":0,"d":1,"x":0.065,"y":0.8},{"p":"d","s":"dd1","t":0,"d":1,"x":0.075,"y":0.73},{"p":"d","s":"dd1","t":0,"d":1,"x":0.085,"y":0.64},{"p":"d","s":"dd1","t":0,"d":1,"x":0.095,"y":0.54},{"p":"d","s":"dd1","t":0,"d":1,"x":0.105,"y":0.43},{"p":"d","s":"dd1","t":0,"d":1,"x":0.115,"y":0.32},{"p":"d","s":"dd1","t":0,"d":1,"x":0.125,"y":0.25},{"p":"d","s":"dd1","t":0,"d":1,"x":0.135,"y":0.19},{"p":"d","s":"dd1","t":0,"d":1,"x":0.145,"y":0.145},{"p":"d","s":"dd1","t":0,"d":1,"x":0.155,"y":0.115},{"p":"d","s":"dd1","t":0,"d":1,"x":0.165,"y":0.092},{"p":"d","s":"dd1","t":0,"d":1,"x":0.175,"y":0.075},{"p":"d","s":"dd1","t":0,"d":1,"x":0.185,"y":0.062},{"p":"d","s":"dd1","t":0,"d":1,"x":0.195,"y":0.05},
{"p":"d","s":"dd2","t":0.2,"d":1,"x":0.005,"y":-0.99},{"p":"d","s":"dd2","t":0.2,"d":1,"x":0.015,"y":-0.95},{"p":"d","s":"dd2","t":0.2,"d":1,"x":0.025,"y":-0.92},{"p":"d","s":"dd2","t":0.2,"d":1,"x":0.035,"y":-0.88},{"p":"d","s":"dd2","t":0.2,"d":1,"x":0.045,"y":-0.8},{"p":"d","s":"dd2","t":0.2,"d":1,"x":0.055,"y":0.83},{"p":"d","s":"dd2","t":0.2,"d":1,"x":0.065,"y":0.76},{"p":"d","s":"dd2","t":0.2,"d":1,"x":0.075,"y":0.68},{"p":"d","s":"dd2","t":0.2,"d":1,"x":0.085,"y":0.58},{"p":"d","s":"dd2","t":0.2,"d":1,"x":0.095,"y":0.48},{"p":"d","s":"dd2","t":0.2,"d":1,"x":0.105,"y":0.38},{"p":"d","s":"dd2","t":0.2,"d":1,"x":0.115,"y":0.29},{"p":"d","s":"dd2","t":0.2,"d":1,"x":0.125,"y":0.22},{"p":"d","s":"dd2","t":0.2,"d":1,"x":0.135,"y":0.17},{"p":"d","s":"dd2","t":0.2,"d":1,"x":0.145,"y":0.135},{"p":"d","s":"dd2","t":0.2,"d":1,"x":0.155,"y":0.11},{"p":"d","s":"dd2","t":0.2,"d":1,"x":0.165,"y":0.09},{"p":"d","s":"dd2","t":0.2,"d":1,"x":0.175,"y":0.074},{"p":"d","s":"dd2","t":0.2,"d":1,"x":0.185,"y":0.06},{"p":"d","s":"dd2","t":0.2,"d":1,"x":0.195,"y":0.048},
{"p":"d","s":"dd3","t":0.33,"d":1,"x":0.005,"y":-0.99},{"p":"d","s":"dd3","t":0.33,"d":1,"x":0.015,"y":-0.96},{"p":"d","s":"dd3","t":0.33,"d":1,"x":0.025,"y":-0.93},{"p":"d","s":"dd3","t":0.33,"d":1,"x":0.035,"y":-0.89},{"p":"d","s":"dd3","t":0.33,"d":1,"x":0.045,"y":-0.84},{"p":"d","s":"dd3","t":0.33,"d":1,"x":0.055,"y":-0.78},{"p":"d","s":"dd3","t":0.33,"d":1,"x":0.065,"y":-0.687},{"p":"d","s":"dd3","t":0.33,"d":1,"x":0.075,"y":0.757},{"p":"d","s":"dd3","t":0.33,"d":1,"x":0.085,"y":0.672},{"p":"d","s":"dd3","t":0.33,"d":1,"x":0.095,"y":0.561},{"p":"d","s":"dd3","t":0.33,"d":1,"x":0.105,"y":0.45},{"p":"d","s":"dd3","t":0.33,"d":1,"x":0.115,"y":0.33},{"p":"d","s":"dd3","t":0.33,"d":1,"x":0.125,"y":0.25},{"p":"d","s":"dd3","t":0.33,"d":1,"x":0.135,"y":0.19},{"p":"d","s":"dd3","t":0.33,"d":1,"x":0.145,"y":0.145},{"p":"d","s":"dd3","t":0.33,"d":1,"x":0.155,"y":0.112},{"p":"d","s":"dd3","t":0.33,"d":1,"x":0.165,"y":0.09},{"p":"d","s":"dd3","t":0.33,"d":1,"x":0.175,"y":0.074},{"p":"d","s":"dd3","t":0.33,"d":1,"x":0.185,"y":0.062},{"p":"d","s":"dd3","t":0.33,"d":1,"x":0.195,"y":0.05},
{"p":"a","k":"B","x":0.1428,"x2":0.3,"y":0.553,"y2":1},
{"p":"b","k":"B","x":0.1428,"x2":0.3,"y":0.553,"y2":1},
{"p":"c","k":"B","x":0.1342,"x2":0.3,"y":0.545,"y2":1},
{"p":"a","k":"S","t":0,"x":0.1564,"x2":0.1846,"y":0.854},{"p":"a","k":"S","t":1,"x":0.1564,"x2":0.1846,"y":0.707},
{"p":"b","k":"S","t":0,"x":0.1564,"x2":0.1846,"y":0.854},{"p":"b","k":"S","t":1,"x":0.1564,"x2":0.1846,"y":0.7},
{"p":"c","k":"S","t":0,"x":0.1468,"x2":0.1765,"y":0.846},{"p":"c","k":"S","t":1,"x":0.1468,"x2":0.1765,"y":0.699},
{"p":"a","k":"T","x":0.1978,"y":0.854,"txt":"c"},{"p":"a","k":"t","x":0.2053,"y":0.854,"txt":"f"},{"p":"a","k":"T","x":0.2085,"y":0.854,"txt":"=.0006,c"},{"p":"a","k":"t","x":0.266,"y":0.854,"txt":"r"},{"p":"a","k":"T","x":0.2697,"y":0.854,"txt":"=1."},
{"p":"a","k":"T","x":0.1978,"y":0.707,"txt":"c"},{"p":"a","k":"t","x":0.2053,"y":0.707,"txt":"f"},{"p":"a","k":"T","x":0.2085,"y":0.707,"txt":"=.16,c"},{"p":"a","k":"t","x":0.2496,"y":0.707,"txt":"r"},{"p":"a","k":"T","x":0.2533,"y":0.707,"txt":"=1."},
{"p":"a","k":"N","x":0.199,"y":-0.695,"txt":"varying fixed coupling"},
{"p":"a","k":"T","x":0.1861,"y":-0.8,"txt":"c"},{"p":"a","k":"t","x":0.1935,"y":-0.8,"txt":"r"},{"p":"a","k":"T","x":0.1972,"y":-0.8,"txt":"=1"},
{"p":"b","k":"T","x":0.1978,"y":0.854,"txt":"c"},{"p":"b","k":"t","x":0.2053,"y":0.854,"txt":"r"},{"p":"b","k":"T","x":0.209,"y":0.854,"txt":"=.0006,c"},{"p":"b","k":"t","x":0.2665,"y":0.854,"txt":"f"},{"p":"b","k":"T","x":0.2697,"y":0.854,"txt":"=1."},
{"p":"b","k":"T","x":0.1978,"y":0.7,"txt":"c"},{"p":"b","k":"t","x":0.2053,"y":0.7,"txt":"r"},{"p":"b","k":"T","x":0.209,"y":0.7,"txt":"=.16,c"},{"p":"b","k":"t","x":0.25,"y":0.7,"txt":"f"},{"p":"b","k":"T","x":0.2533,"y":0.7,"txt":"=1."},
{"p":"b","k":"N","x":0.199,"y":-0.697,"txt":"varying random coupling"},
{"p":"b","k":"T","x":0.1861,"y":-0.814,"txt":"c"},{"p":"b","k":"t","x":0.1935,"y":-0.814,"txt":"f"},{"p":"b","k":"T","x":0.1966,"y":-0.814,"txt":"=1"},
{"p":"c","k":"T","x":0.1887,"y":0.846,"txt":"c"},{"p":"c","k":"t","x":0.1962,"y":0.846,"txt":"r"},{"p":"c","k":"T","x":0.1999,"y":0.846,"txt":"=1,c"},{"p":"c","k":"t","x":0.2285,"y":0.846,"txt":"f"},{"p":"c","k":"T","x":0.2317,"y":0.846,"txt":"=.01"},
{"p":"c","k":"T","x":0.1887,"y":0.699,"txt":"c"},{"p":"c","k":"t","x":0.1962,"y":0.699,"txt":"r"},{"p":"c","k":"T","x":0.1999,"y":0.699,"txt":"=.0156,c"},{"p":"c","k":"t","x":0.2575,"y":0.699,"txt":"f"},{"p":"c","k":"T","x":0.2607,"y":0.699,"txt":"=.64"},
{"p":"c","k":"N","x":0.1997,"y":-0.7,"txt":"fixed product"},
{"p":"c","k":"T","x":0.1796,"y":-0.83,"txt":"c"},{"p":"c","k":"t","x":0.187,"y":-0.83,"txt":"r"},{"p":"c","k":"T","x":0.1908,"y":-0.83,"txt":"c"},{"p":"c","k":"t","x":0.1982,"y":-0.83,"txt":"f"},{"p":"c","k":"T","x":0.2014,"y":-0.83,"txt":"=.1"},
{"p":"d","k":"Q","x":0.2142,"y":0.898,"txt":"1:"},{"p":"d","k":"Q","x":0.233,"y":0.898,"txt":"0.02"},
{"p":"d","k":"Q","x":0.2142,"y":0.796,"txt":"2:"},{"p":"d","k":"Q","x":0.233,"y":0.796,"txt":"0.08"},
{"p":"d","k":"Q","x":0.2142,"y":0.7,"txt":"3:"},{"p":"d","k":"Q","x":0.233,"y":0.7,"txt":"0.32"},
{"p":"d","k":"Q","x":0.2142,"y":0.6,"txt":"4:"},{"p":"d","k":"Q","x":0.233,"y":0.6,"txt":"0.64"},
{"p":"d","k":"C","t":0,"x":0.035,"y":0.877,"txt":"1"},{"p":"d","k":"C","t":0.2,"x":0.0547,"y":0.877,"txt":"2"},{"p":"d","k":"C","t":0.33,"x":0.0748,"y":0.804,"txt":"3"},{"p":"d","k":"C","t":0.5,"x":0.1048,"y":0.71,"txt":"4"},
{"p":"d","k":"A","x":0.1107,"y":-0.46,"txt":"A"},{"p":"d","k":"A","x":0.1107,"y":-0.793,"txt":"B"},
{"p":"d","k":"R","x":0.1274,"x2":0.1522,"y":-0.527,"y2":-0.335},{"p":"d","k":"R","x":0.1986,"x2":0.2231,"y":-0.527,"y2":-0.335},{"p":"d","k":"R","x":0.2701,"x2":0.2951,"y":-0.527,"y2":-0.335},
{"p":"d","k":"R","x":0.1274,"x2":0.1522,"y":-0.879,"y2":-0.681},{"p":"d","k":"R","x":0.1986,"x2":0.2231,"y":-0.879,"y2":-0.681},{"p":"d","k":"R","x":0.2701,"x2":0.2951,"y":-0.879,"y2":-0.681},
{"p":"d","k":"U","x":0.1398,"y":-0.431,"txt":"u"},{"p":"d","k":"U","x":0.2109,"y":-0.431,"txt":"v"},{"p":"d","k":"U","x":0.2826,"y":-0.431,"txt":"w"},
{"p":"d","k":"U","x":0.1398,"y":-0.78,"txt":"u"},{"p":"d","k":"U","x":0.2109,"y":-0.78,"txt":"v"},{"p":"d","k":"U","x":0.2826,"y":-0.78,"txt":"w"},
{"p":"d","k":"V","x":0.1731,"y":-0.281,"txt":".2"},{"p":"d","k":"V","x":0.1731,"y":-0.559,"txt":".2"},{"p":"d","k":"V","x":0.2447,"y":-0.281,"txt":"1"},{"p":"d","k":"V","x":0.2447,"y":-0.559,"txt":"1"},
{"p":"d","k":"V","x":0.1731,"y":-0.676,"txt":".4"},{"p":"d","k":"V","x":0.1731,"y":-0.911,"txt":".4"},{"p":"d","k":"V","x":0.2447,"y":-0.693,"txt":"1"},{"p":"d","k":"V","x":0.2447,"y":-0.91,"txt":"1"},
{"p":"d","k":"W","r":0.2,"x":0.1538,"x2":0.1914,"y":-0.399},{"p":"d","k":"W","r":0.2,"x":0.1952,"x2":0.1577,"y":-0.465},{"p":"d","k":"W","r":1,"x":0.2257,"x2":0.2631,"y":-0.399},{"p":"d","k":"W","r":1,"x":0.2671,"x2":0.23,"y":-0.465},
{"p":"d","k":"W","r":0.4,"x":0.1538,"x2":0.1914,"y":-0.75},{"p":"d","k":"W","r":0.4,"x":0.1952,"x2":0.1577,"y":-0.815},{"p":"d","k":"W","r":1,"x":0.2257,"x2":0.2631,"y":-0.75},{"p":"d","k":"W","r":1,"x":0.2671,"x2":0.23,"y":-0.815},
{"p":"a","k":"X","x":0},{"p":"a","k":"X","x":0.1},{"p":"a","k":"X","x":0.2},{"p":"a","k":"X","x":0.3},
{"p":"b","k":"X","x":0},{"p":"b","k":"X","x":0.1},{"p":"b","k":"X","x":0.2},{"p":"b","k":"X","x":0.3},
{"p":"c","k":"X","x":0},{"p":"c","k":"X","x":0.1},{"p":"c","k":"X","x":0.2},{"p":"c","k":"X","x":0.3}
]},
"facet":{"row":{"field":"p","type":"nominal","header":{"title":null,"labelOrient":"left","labelAngle":0,"labelAnchor":"end","labelAlign":"left","labelBaseline":"top","labelFont":"DejaVu Serif","labelFontWeight":"bold","labelFontSize":21,"labelPadding":40,"labelColor":"black","labelExpr":"['', datum.label]","labelLineHeight":7}}},
"spacing":{"row":-2},
"spec":{
"width":383.4,"height":312,
"layer":[
{"mark":{"type":"rule","color":"#bbbbbb","strokeWidth":1},"encoding":{"y":{"datum":0,"type":"quantitative"}}},
{"transform":[{"filter":"isValid(datum.s) && !(datum.d==1 && datum.p=='a')"}],
 "mark":{"type":"line","strokeWidth":1.2},
 "encoding":{
  "x":{"field":"x","type":"quantitative","scale":{"domain":[0,0.3],"nice":false,"zero":false},"axis":{"values":[0,0.1,0.2,0.3],"title":"ε","titleFont":"DejaVu Serif","tickSize":7,"labelPadding":3,"titlePadding":-2,"labelFlush":false,"labelOverlap":false,"labelExpr":"'' + datum.value"}},
  "y":{"field":"y","type":"quantitative","scale":{"domain":[-1,1],"nice":false,"zero":false},"axis":{"values":[-1,0,1],"title":"w−u","labelAngle":270,"labelAlign":"center","labelBaseline":"alphabetic","labelPadding":1,"tickSize":10,"titleAngle":270,"titleX":-27,"titleY":156,"titleAlign":"center","titleBaseline":"alphabetic","labelFlush":false,"labelExpr":"'' + datum.value"}},
  "detail":{"field":"s","type":"nominal"},
  "color":{"field":"t","type":"quantitative","scale":{"domain":[0,1],"range":["#ff0000","#0000ff"],"interpolate":"rgb"},"legend":null},
  "strokeDash":{"condition":{"test":"datum.d==1","value":[5,4]},"value":[1,0]}
 }},
{"transform":[{"filter":"isValid(datum.s) && datum.d==1 && datum.p=='a'"}],
 "mark":{"type":"line","strokeWidth":4,"strokeDash":[8,6]},
 "encoding":{
  "x":{"field":"x","type":"quantitative"},
  "y":{"field":"y","type":"quantitative"},
  "detail":{"field":"s","type":"nominal"},
  "color":{"field":"t","type":"quantitative","scale":{"domain":[0,1],"range":["#ff0000","#0000ff"],"interpolate":"rgb"},"legend":null}
 }},
{"transform":[{"filter":"isValid(datum.s) && (datum.d!=1 || datum.p=='a')"}],
 "mark":{"type":"circle","size":10,"color":"black","opacity":1},
 "encoding":{"x":{"field":"x","type":"quantitative"},"y":{"field":"y","type":"quantitative"}}},
{"transform":[{"filter":"isValid(datum.s) && datum.d==1 && datum.p!='a'"}],
 "mark":{"type":"point","size":10,"filled":false,"stroke":"black","strokeWidth":1,"opacity":1},
 "encoding":{"x":{"field":"x","type":"quantitative"},"y":{"field":"y","type":"quantitative"}}},
{"transform":[{"filter":"datum.k=='X'"}],
 "mark":{"type":"rule","color":"black","strokeWidth":1.2},
 "encoding":{"x":{"field":"x","type":"quantitative"},"y":{"datum":-1,"type":"quantitative"},"y2":{"datum":-1.045}}},
{"transform":[{"filter":"datum.k=='B'"}],
 "mark":{"type":"rect","fill":"white","stroke":"black","strokeWidth":1.2},
 "encoding":{"x":{"field":"x","type":"quantitative"},"x2":{"field":"x2"},"y":{"field":"y","type":"quantitative"},"y2":{"field":"y2"}}},
{"transform":[{"filter":"datum.k=='S'"}],
 "mark":{"type":"rule","strokeWidth":1.5},
 "encoding":{"x":{"field":"x","type":"quantitative"},"x2":{"field":"x2"},"y":{"field":"y","type":"quantitative"},
  "color":{"field":"t","type":"quantitative","scale":{"domain":[0,1],"range":["#ff0000","#0000ff"],"interpolate":"rgb"},"legend":null}}},
{"transform":[{"filter":"datum.k=='T'"}],
 "mark":{"type":"text","align":"left","baseline":"middle","fontSize":19,"font":"Liberation Sans","color":"black"},
 "encoding":{"x":{"field":"x","type":"quantitative"},"y":{"field":"y","type":"quantitative"},"text":{"field":"txt"}}},
{"transform":[{"filter":"datum.k=='t'"}],
 "mark":{"type":"text","align":"left","baseline":"middle","fontSize":13,"dy":5,"font":"Liberation Sans","color":"black"},
 "encoding":{"x":{"field":"x","type":"quantitative"},"y":{"field":"y","type":"quantitative"},"text":{"field":"txt"}}},
{"transform":[{"filter":"datum.k=='N'"}],
 "mark":{"type":"text","align":"center","baseline":"middle","fontSize":19,"font":"Liberation Sans","color":"black"},
 "encoding":{"x":{"field":"x","type":"quantitative"},"y":{"field":"y","type":"quantitative"},"text":{"field":"txt"}}},
{"transform":[{"filter":"datum.k=='Q'"}],
 "mark":{"type":"text","align":"left","baseline":"middle","fontSize":14,"font":"Liberation Sans","color":"black"},
 "encoding":{"x":{"field":"x","type":"quantitative"},"y":{"field":"y","type":"quantitative"},"text":{"field":"txt"}}},
{"transform":[{"filter":"datum.k=='C'"}],
 "mark":{"type":"text","align":"center","baseline":"middle","fontSize":16,"font":"Liberation Sans"},
 "encoding":{"x":{"field":"x","type":"quantitative"},"y":{"field":"y","type":"quantitative"},"text":{"field":"txt"},
  "color":{"field":"t","type":"quantitative","scale":{"domain":[0,1],"range":["#ff0000","#0000ff"],"interpolate":"rgb"},"legend":null}}},
{"transform":[{"filter":"datum.k=='A'"}],
 "mark":{"type":"text","align":"center","baseline":"middle","fontSize":25,"font":"Liberation Sans","color":"#222222"},
 "encoding":{"x":{"field":"x","type":"quantitative"},"y":{"field":"y","type":"quantitative"},"text":{"field":"txt"}}},
{"transform":[{"filter":"datum.k=='R'"}],
 "mark":{"type":"rect","fill":"white","stroke":"#222222","strokeWidth":1.2},
 "encoding":{"x":{"field":"x","type":"quantitative"},"x2":{"field":"x2"},"y":{"field":"y","type":"quantitative"},"y2":{"field":"y2"}}},
{"transform":[{"filter":"datum.k=='W'"}],
 "mark":{"type":"rule","color":"#111111"},
 "encoding":{"x":{"field":"x","type":"quantitative"},"x2":{"field":"x2"},"y":{"field":"y","type":"quantitative"},
  "strokeWidth":{"condition":{"test":"datum.r==1","value":4.5},"value":1.3}}},
{"transform":[{"filter":"datum.k=='W'"}],
 "mark":{"type":"point","filled":true,"color":"#111111","opacity":1,"strokeWidth":0},
 "encoding":{"x":{"field":"x2","type":"quantitative"},"y":{"field":"y","type":"quantitative"},
  "shape":{"condition":[{"test":"datum.r==1 && datum.x2>datum.x","value":"M-1,-0.7L1,0L-1,0.7Z"},{"test":"datum.r==1","value":"M1,-0.7L-1,0L1,0.7Z"},{"test":"datum.x2>datum.x","value":"M-1,-0.5L1,0L-1,0.5Z"}],"value":"M1,-0.5L-1,0L1,0.5Z"},
  "size":{"condition":{"test":"datum.r==1","value":144},"value":100}}},
{"transform":[{"filter":"datum.k=='U'"}],
 "mark":{"type":"text","align":"center","baseline":"middle","fontSize":22,"font":"Liberation Serif","fontStyle":"italic","color":"#222222"},
 "encoding":{"x":{"field":"x","type":"quantitative"},"y":{"field":"y","type":"quantitative"},"text":{"field":"txt"}}},
{"transform":[{"filter":"datum.k=='V'"}],
 "mark":{"type":"text","align":"center","baseline":"middle","fontSize":18,"font":"Liberation Serif","fontStyle":"italic","color":"#222222"},
 "encoding":{"x":{"field":"x","type":"quantitative"},"y":{"field":"y","type":"quantitative"},"text":{"field":"txt"}}}
]}
}
